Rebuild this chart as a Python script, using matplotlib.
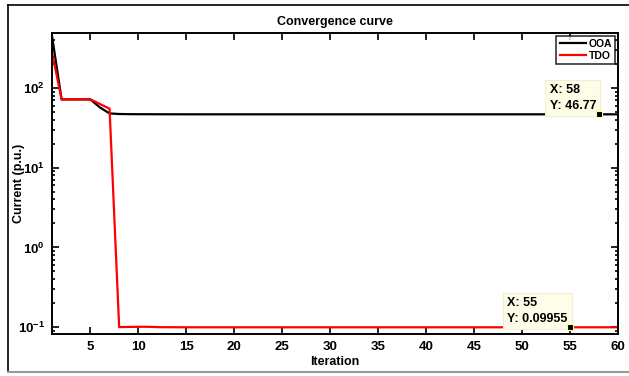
import matplotlib.pyplot as plt
from matplotlib.lines import Line2D

iterations = list(range(1, 61))
ooa = [450, 72, 72, 72, 72, 57, 48, 47.2, 47.0, 46.9, 46.9, 46.85, 46.82, 46.8, 46.8] + [46.77] * 45
tdo = [280, 72, 72, 72, 72, 63, 55, 0.1, 0.1005, 0.101, 0.101, 0.1, 0.0998, 0.0997, 0.0996] + [0.09955] * 45
tip_points = [(58, 46.77), (55, 0.09955)]
tip_texts = ["X: 58\nY: 46.77", "X: 55\nY: 0.09955"]

plt.rcParams['font.family'] = ['Liberation Sans', 'DejaVu Sans']
plt.rcParams['font.weight'] = 'bold'

fig = plt.figure(figsize=(6.29, 3.76), dpi=100)
ax = fig.add_axes([52 / 629, 42 / 376, 566 / 629, 301 / 376])

ax.plot(iterations, ooa, color='black', lw=1.6, label='OOA')
ax.plot(iterations, tdo, color='red', lw=1.6, label='TDO')
ax.set_yscale('log')
ax.set_xlim(1, 60)
ax.set_ylim(0.082, 490)
ax.set_xticks(range(5, 61, 5))
ax.tick_params(which='both', direction='in', top=True, right=True, labelsize=9.5, width=1.2)
ax.tick_params(which='major', length=5, pad=5)
ax.tick_params(which='minor', length=2.5)
for s in ax.spines.values():
    s.set_linewidth(1.4)
ax.set_title('Convergence curve', fontsize=9, fontweight='bold', pad=6)
ax.set_xlabel('Iteration', fontsize=9, fontweight='bold')
ax.set_ylabel('Current (p.u.)', fontsize=9, fontweight='bold')
ax.xaxis.set_label_coords(0.5, -0.072)
ax.yaxis.set_label_coords(-0.048, 0.5)

leg = ax.legend(loc='upper right', fontsize=7.5, frameon=True, fancybox=False,
                handlelength=2.5, borderpad=0.3, labelspacing=0.2,
                handletextpad=0.3, borderaxespad=0.25)
leg.get_frame().set_edgecolor('black')
leg.get_frame().set_linewidth(1.2)

for (px, py), txt in zip(tip_points, tip_texts):
    ax.plot(px, py, 's', ms=4, mfc='black', mec='#ffff99', mew=0.8, zorder=5)
    ax.annotate(txt, (px, py), xytext=(-2, 2), textcoords='offset points',
                ha='right', va='bottom', multialignment='left',
                fontsize=9, fontweight='bold', linespacing=1.35,
                bbox=dict(boxstyle='square,pad=0.35', fc='#fdfde8', ec='#f0f0d0', lw=0.8))

# outer figure border
fig.add_artist(Line2D([8 / 629, 1], [1 - 5 / 376, 1 - 5 / 376], color='black', lw=1.2))
fig.add_artist(Line2D([8 / 629, 8 / 629], [4 / 376, 1 - 5 / 376], color='black', lw=1.2))
fig.add_artist(Line2D([8 / 629, 1], [4 / 376, 4 / 376], color='#999999', lw=1.5))

fig.savefig('out.png', dpi=100)
